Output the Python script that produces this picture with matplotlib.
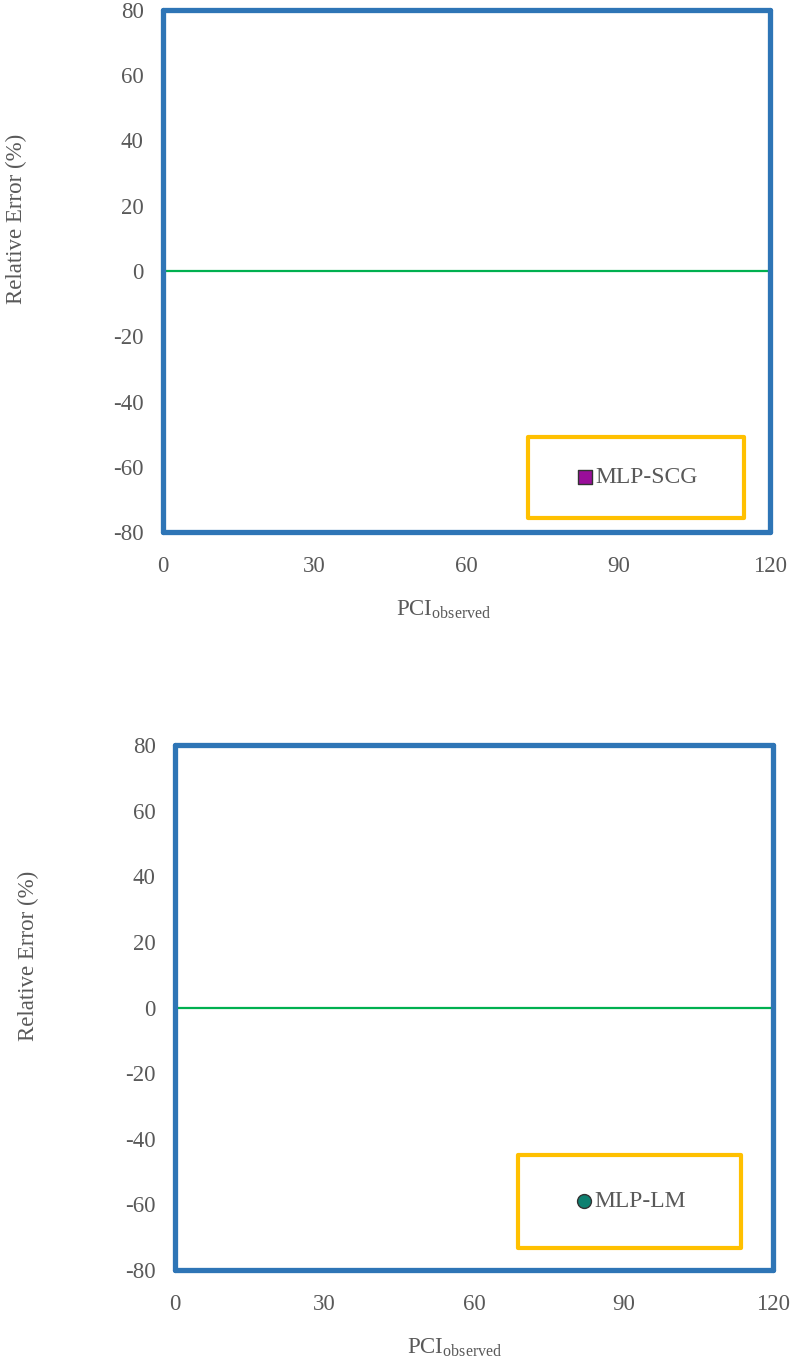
import numpy as np
import matplotlib
matplotlib.use("Agg")
import matplotlib.pyplot as plt
from matplotlib.patches import Rectangle

plt.rcParams["font.family"] = ["Liberation Serif", "DejaVu Serif"]
plt.rcParams["mathtext.fontset"] = "custom"
plt.rcParams["mathtext.rm"] = "Liberation Serif"
plt.rcParams["mathtext.it"] = "Liberation Serif:italic"
plt.rcParams["axes.unicode_minus"] = False

# Dane
x_ticks = [0, 30, 60, 90, 120]
y_ticks = [-80, -60, -40, -20, 0, 20, 40, 60, 80]
models = ["MLP-SCG", "MLP-LM"]
pci_scg, err_scg = [], []   # brak widocznych punktów na wykresie
pci_lm, err_lm = [], []
zero_x = [0, 120]
zero_y = [0, 0]

txt = "#595959"
blue = "#2E75B6"
gold = "#FFC000"
green = "#00B050"

W, H = 790, 1363
fig = plt.figure(figsize=(W / 100, H / 100), dpi=100)

panels = [
    # (axes px: left, top, right, bottom), legend px box, ylabel x px, xlabel x, series, marker
    ((163, 10, 770, 532), (528, 437, 744, 518), 6, 0.463, (pci_scg, err_scg), "s", "#9A0E9A", models[0]),
    ((175, 745, 773, 1270), (518, 1155, 741, 1248), 18, 0.467, (pci_lm, err_lm), "o", "#0E8070", models[1]),
]

for (l, t, r, b), (ll, lt, lr, lb), ylx, xlx, (xs, ys), mk, mc, name in panels:
    ax = fig.add_axes([l / W, 1 - b / H, (r - l) / W, (b - t) / H])
    ax.set_xlim(0, 120)
    ax.set_ylim(-80, 80)
    ax.set_xticks(x_ticks)
    ax.set_yticks(y_ticks)
    ax.tick_params(length=0, labelsize=16.5, colors=txt, pad=14)
    ax.tick_params(axis="x", pad=17)
    for s in ax.spines.values():
        s.set_color(blue)
        s.set_linewidth(3.8)
        s.set_capstyle("round")
    ax.plot(zero_x, zero_y, color=green, lw=1.6, zorder=2)
    ax.scatter(xs, ys, marker=mk, color=mc, edgecolor="#333333", s=100, label=name, zorder=3)

    ax.set_xlabel(r"PCI$_{\mathrm{observed}}$", fontsize=16.5, color=txt, labelpad=16)
    ax.xaxis.label.set_x(xlx)

    # ramka legendy
    bx0 = (ll - l) / (r - l)
    by0 = (b - lb) / (b - t)
    bw = (lr - ll) / (r - l)
    bh = (lb - lt) / (b - t)
    ax.add_patch(Rectangle((bx0, by0), bw, bh, transform=ax.transAxes, facecolor="white",
                           edgecolor=gold, lw=3.0, joinstyle="round", zorder=4))
    leg = ax.legend(loc="center", bbox_to_anchor=(bx0, by0, bw, bh), frameon=False,
                    fontsize=17, handletextpad=0.0, handlelength=0.9, markerscale=1.0,
                    labelcolor=txt)
    leg.set_zorder(5)

    fig.text(ylx / W, 1 - ((t + b) / 2 - 52) / H, "Relative Error (%)", rotation=90,
             ha="left", va="center", fontsize=16.5, color=txt)

fig.savefig("out.png", dpi=100)
